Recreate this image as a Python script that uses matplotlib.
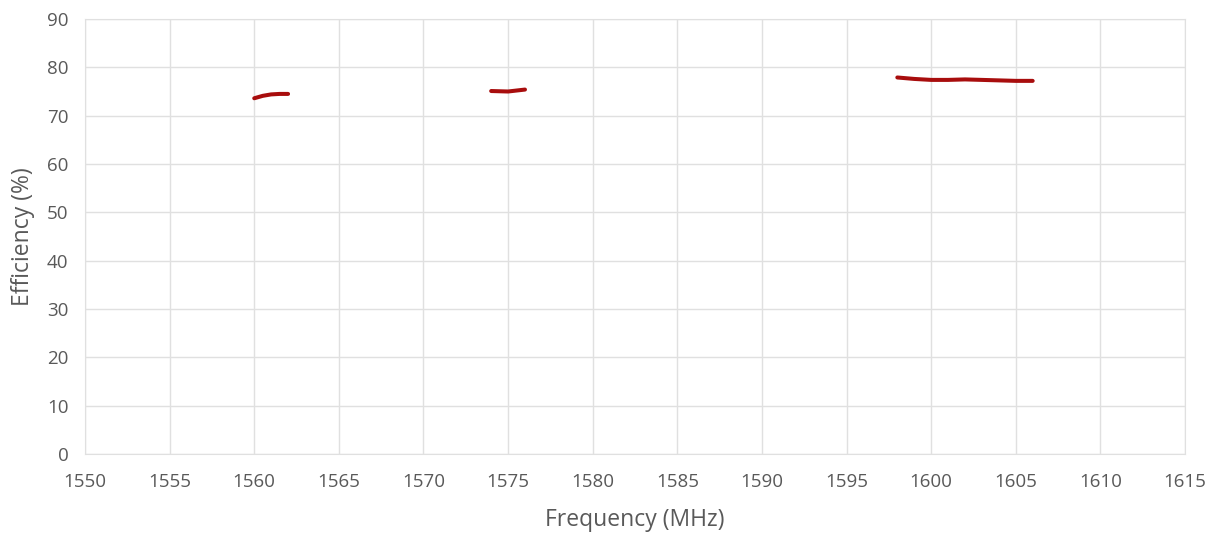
import matplotlib
matplotlib.use("Agg")
import matplotlib.pyplot as plt

# three measured bands
freq_l1 = [1560, 1560.5, 1561, 1561.5, 1562]
eff_l1 = [73.6, 74.1, 74.4, 74.5, 74.5]

freq_l2 = [1574, 1575, 1576]
eff_l2 = [75.1, 75.0, 75.4]

freq_l3 = [1598, 1599, 1600, 1601, 1602, 1603, 1604, 1605, 1606]
eff_l3 = [77.9, 77.6, 77.4, 77.4, 77.5, 77.4, 77.3, 77.2, 77.2]

xticks = list(range(1550, 1616, 5))
yticks = list(range(0, 91, 10))


def main():
    plt.rcParams['font.family'] = ['Open Sans', 'DejaVu Sans']
    fig = plt.figure(figsize=(12.16, 5.43), dpi=100)
    ax = fig.add_axes([85 / 1216, 89 / 543, 1100 / 1216, 435 / 543])

    red = "#a80d0d"
    for xs, ys in [(freq_l1, eff_l1), (freq_l2, eff_l2), (freq_l3, eff_l3)]:
        ax.plot(xs, ys, color=red, lw=2.9, solid_capstyle='round')

    ax.set_xlim(1550, 1615)
    ax.set_ylim(0, 90)
    ax.set_xticks(xticks)
    ax.set_yticks(yticks)
    ax.grid(True, color="#e0e0e0", lw=1)
    ax.set_axisbelow(True)
    for s in ax.spines.values():
        s.set_color("#e0e0e0")
    ax.tick_params(axis='x', length=0, colors="#595959", labelsize=13.5, pad=14)
    ax.tick_params(axis='y', length=0, colors="#595959", labelsize=13.5, pad=12)
    ax.set_xlabel("Frequency (MHz)", color="#595959", fontsize=16.5, va='center')
    ax.set_ylabel("Efficiency (%)", color="#595959", fontsize=16.5, va='center')
    ax.xaxis.set_label_coords(0.5, -66 / 435)
    ax.yaxis.set_label_coords(-62 / 1100, 0.5)

    fig.savefig("out.png", dpi=100)


if __name__ == "__main__":
    main()
